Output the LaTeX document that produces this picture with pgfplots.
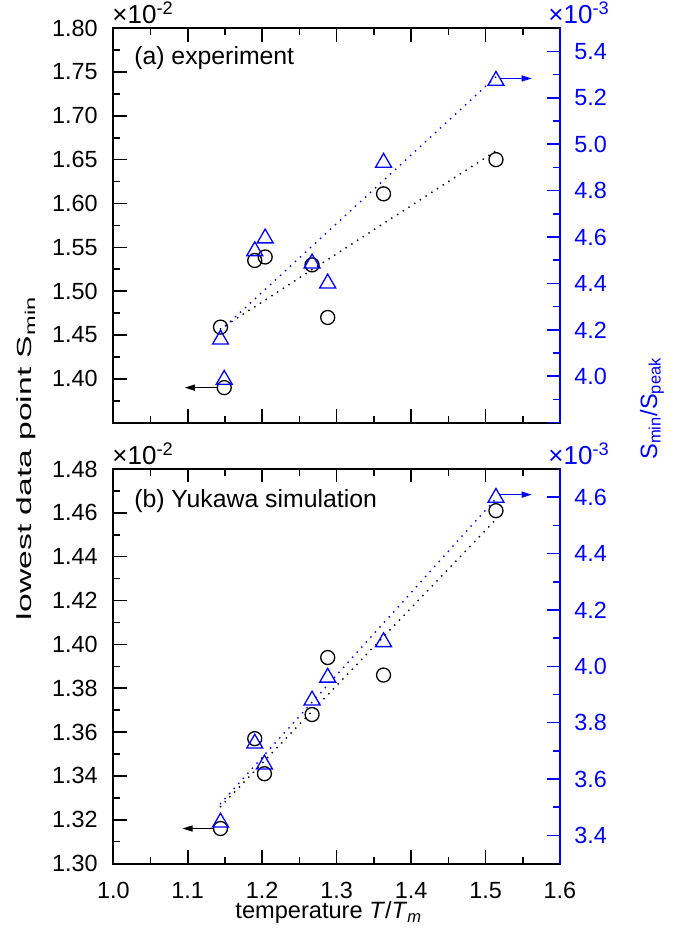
\documentclass[border=0pt]{standalone}
\usepackage{fontspec}
\setmainfont{Liberation Sans}
\usepackage{graphicx}
\usepackage{pgfplots}
\pgfplotsset{compat=1.18}
\usetikzlibrary{arrows.meta}

\definecolor{oblue}{rgb}{0,0,1}

% 1 px of the reference = 0.5pt
\pgfplotsset{
  panel/.style={
    scale only axis, width=223.35pt, height=197.3pt,
    xmin=1, xmax=1.6, clip=false, scaled ticks=false,
    tick align=inside,
    major tick length=6.7pt, minor tick length=3.3pt,
    minor x tick num=1, minor y tick num=1,
    xtick={1.0,1.1,1.2,1.3,1.4,1.5,1.6},
    ticklabel style={font=\fontsize{11.7}{13}\selectfont},
  },
  leftax/.style={panel,
    ytick pos=left, xtick pos=both,
    axis line style={line width=0.9pt, black},
    major tick style={line width=0.8pt, black},
    minor tick style={line width=0.8pt, black},
    yticklabel style={anchor=east, xshift=-4.3pt},
    xticklabel style={anchor=base, yshift=-17.2pt, inner sep=0.5pt},
  },
  rightax/.style={panel,
    axis y line*=right, axis x line=none,
    axis line style={line width=0.9pt, oblue},
    major tick style={line width=0.8pt, oblue},
    minor tick style={line width=0.8pt, oblue},
    yticklabel style={anchor=west, xshift=3.7pt, text=oblue},
  },
  fitline/.style={line width=1pt, line cap=round, dash pattern=on 0pt off 3.4pt},
  circ/.style={only marks, mark=o, mark size=3.5pt, mark options={black, line width=0.65pt}},
  tri/.style={only marks, mark=triangle, mark size=4.6pt, mark options={oblue, line width=0.65pt, yshift=-1.1pt}},
  pointer/.style={line width=0.6pt, -{Triangle[length=5pt,width=3pt]}},
}

\begin{document}
\begin{tikzpicture}
% frame of the reference image (685 x 936 px)
\useasboundingbox (-56.65pt,-256.65pt) rectangle (285.85pt,211.35pt);

% ---------- (a) experiment ----------
\begin{axis}[leftax, at={(0,0)},
    ymin=1.35, ymax=1.80,
    ytick={1.35,1.40,1.45,1.50,1.55,1.60,1.65,1.70,1.75,1.80},
    yticklabels={,1.40,1.45,1.50,1.55,1.60,1.65,1.70,1.75,1.80},
    xticklabel=\empty]
\addplot[fitline, black] coordinates {(1.144,1.457)(1.514,1.660)};
\addplot[circ] coordinates {
  (1.144,1.459)(1.149,1.390)(1.190,1.535)(1.204,1.539)
  (1.267,1.530)(1.288,1.470)(1.363,1.611)(1.514,1.650)};
\addplot[pointer, black] coordinates {(1.139,1.390)(1.096,1.390)};
\node[anchor=west, inner sep=0pt, xshift=10.3pt, yshift=-14.9pt,
  font=\fontsize{12.4}{14}\selectfont] at (rel axis cs:0,1) {(a) experiment};
\end{axis}

\begin{axis}[rightax, at={(0,0)},
    ymin=3.8, ymax=5.5,
    ytick={3.8,4.0,4.2,4.4,4.6,4.8,5.0,5.2,5.4},
    yticklabels={,4.0,4.2,4.4,4.6,4.8,5.0,5.2,5.4}]
\addplot[fitline, oblue] coordinates {(1.144,4.197)(1.514,5.290)};
\addplot[tri] coordinates {
  (1.144,4.168)(1.149,3.995)(1.190,4.549)(1.204,4.604)
  (1.267,4.496)(1.288,4.410)(1.363,4.930)(1.514,5.283)};
\addplot[pointer, oblue] coordinates {(1.519,5.283)(1.562,5.283)};
\end{axis}

% ---------- (b) Yukawa simulation ----------
\begin{axis}[leftax, at={(0,-220.45pt)},
    ymin=1.30, ymax=1.48,
    ytick={1.30,1.32,1.34,1.36,1.38,1.40,1.42,1.44,1.46,1.48},
    yticklabels={1.30,1.32,1.34,1.36,1.38,1.40,1.42,1.44,1.46,1.48},
    xticklabels={1.0,1.1,1.2,1.3,1.4,1.5,1.6},
    xlabel={temperature \textit{T}/\textit{T}\textsubscript{\textit{m}}},
    xlabel style={at={(axis description cs:0.5,0)}, anchor=base, inner sep=0pt,
      yshift=-27.5pt, xshift=-3.9pt, font=\fontsize{11.8}{14}\selectfont}]
\addplot[fitline, black] coordinates {(1.144,1.326)(1.514,1.457)};
\addplot[circ] coordinates {
  (1.144,1.316)(1.190,1.357)(1.203,1.341)(1.267,1.368)
  (1.288,1.394)(1.363,1.386)(1.514,1.461)};
\addplot[pointer, black] coordinates {(1.134,1.316)(1.093,1.316)};
\node[anchor=west, inner sep=0pt, xshift=10.3pt, yshift=-16pt,
  font=\fontsize{12.4}{14}\selectfont] at (rel axis cs:0,1) {(b) Yukawa simulation};
\end{axis}

\begin{axis}[rightax, at={(0,-220.45pt)},
    ymin=3.3, ymax=4.7,
    ytick={3.4,3.6,3.8,4.0,4.2,4.4,4.6},
    yticklabels={3.4,3.6,3.8,4.0,4.2,4.4,4.6}]
\addplot[fitline, oblue] coordinates {(1.144,3.513)(1.514,4.595)};
\addplot[tri] coordinates {
  (1.144,3.454)(1.190,3.734)(1.203,3.660)(1.267,3.887)
  (1.288,3.968)(1.363,4.094)(1.514,4.606)};
\addplot[pointer, oblue] coordinates {(1.519,4.609)(1.562,4.609)};
\end{axis}

% ---------- multipliers ----------
\begin{scope}[every node/.style={anchor=base west, inner sep=0pt, font=\fontsize{13}{15}\selectfont}]
\node at (-0.6pt,199.5pt) {×10\textsuperscript{-2}};
\node at (-0.6pt,-20.95pt) {×10\textsuperscript{-2}};
\node[text=oblue] at (217.35pt,199.5pt) {×10\textsuperscript{-3}};
\node[text=oblue] at (217.35pt,-20.95pt) {×10\textsuperscript{-3}};
\end{scope}

% ---------- axis titles ----------
\node[rotate=90, anchor=base, inner sep=0pt, font=\fontsize{10.2}{13}\selectfont]
  at (-40.8pt,-17.65pt) {\scalebox{1.65}[1]{lowest data point S\textsubscript{min}}};
\node[rotate=90, anchor=base, inner sep=0pt, text=oblue, font=\fontsize{11.8}{14}\selectfont]
  at (271.85pt,7.1pt) {S\textsubscript{min}/S\textsubscript{peak}};

\end{tikzpicture}
\end{document}
